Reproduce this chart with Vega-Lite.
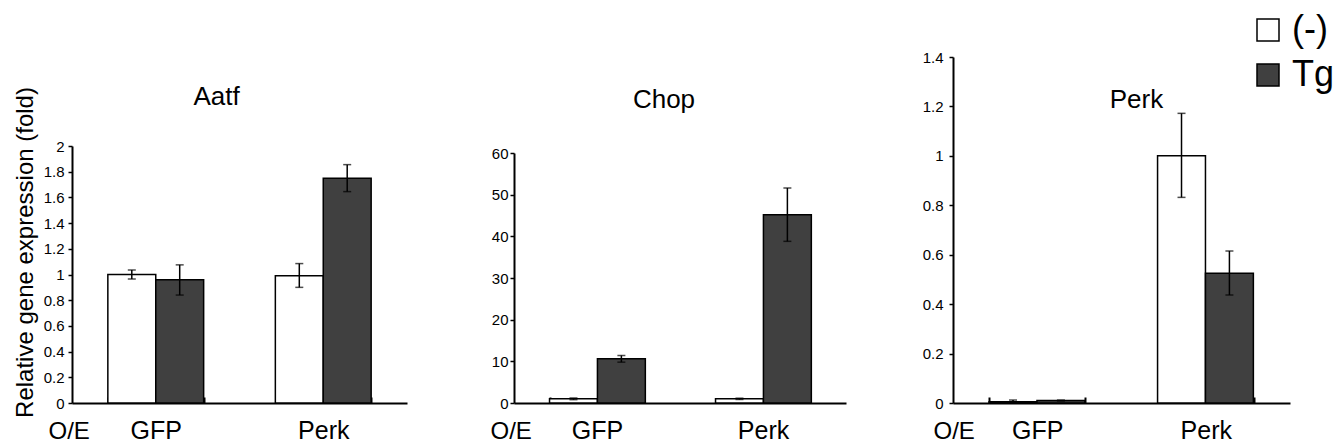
{
  "$schema": "https://vega.github.io/schema/vega-lite/v6.json",
  "padding": {"left": 13, "top": 12, "right": 5, "bottom": 5},
  "background": "white",
  "config": {
    "font": "Liberation Sans",
    "view": {"stroke": null},
    "axis": {"grid": false, "domainColor": "black", "domainWidth": 2, "tickColor": "black", "tickWidth": 1.5, "labelColor": "black", "titleColor": "black", "titleFontWeight": "normal", "labelFont": "Liberation Sans", "titleFont": "Liberation Sans", "labelOverlap": false},
    "title": {"font": "Liberation Sans", "fontSize": 26, "fontWeight": "normal", "color": "black", "frame": "group"},
    "legend": {"orient": "none", "legendX": 1178, "legendY": -45, "title": null, "symbolType": "square", "symbolSize": 484, "symbolStrokeColor": "black", "symbolStrokeWidth": 1.5, "labelFontSize": 36, "labelFont": "Liberation Sans", "labelColor": "black", "rowPadding": 9, "labelOffset": 6}
  },
  "data": {"values": [
    {"gene": "Aatf", "oe": "GFP", "treatment": "(-)", "value": 1.0, "lo": 0.965, "hi": 1.035},
    {"gene": "Aatf", "oe": "GFP", "treatment": "Tg", "value": 0.96, "lo": 0.84, "hi": 1.075},
    {"gene": "Aatf", "oe": "Perk", "treatment": "(-)", "value": 0.99, "lo": 0.9, "hi": 1.085},
    {"gene": "Aatf", "oe": "Perk", "treatment": "Tg", "value": 1.75, "lo": 1.645, "hi": 1.855},
    {"gene": "Chop", "oe": "GFP", "treatment": "(-)", "value": 1.0, "lo": 0.8, "hi": 1.2},
    {"gene": "Chop", "oe": "GFP", "treatment": "Tg", "value": 10.6, "lo": 9.8, "hi": 11.4},
    {"gene": "Chop", "oe": "Perk", "treatment": "(-)", "value": 1.0, "lo": 0.85, "hi": 1.15},
    {"gene": "Chop", "oe": "Perk", "treatment": "Tg", "value": 45.2, "lo": 38.8, "hi": 51.6},
    {"gene": "Perk", "oe": "GFP", "treatment": "(-)", "value": 0.005, "lo": 0.0, "hi": 0.012},
    {"gene": "Perk", "oe": "GFP", "treatment": "Tg", "value": 0.01, "lo": 0.008, "hi": 0.012},
    {"gene": "Perk", "oe": "Perk", "treatment": "(-)", "value": 1.0, "lo": 0.832, "hi": 1.172},
    {"gene": "Perk", "oe": "Perk", "treatment": "Tg", "value": 0.525, "lo": 0.437, "hi": 0.615}
  ]},
  "bounds": "flush",
  "spacing": 107,
  "hconcat": [
    {
      "width": 335, "height": 346,
      "title": {"text": "Aatf", "offset": -38, "baseline": "middle", "dx": -23, "dy": 28},
      "transform": [{"filter": "datum.gene === 'Aatf'"}],
      "encoding": {
        "x": {"field": "oe", "type": "nominal", "sort": ["GFP", "Perk"], "scale": {"paddingInner": 0.428, "paddingOuter": 0.214},
              "axis": {"title": "O/E", "titleX": -24, "titleY": 28, "titleAlign": "left", "titleBaseline": "middle", "titleFontSize": 24, "labelFontSize": 25, "labelAngle": 0, "labelPadding": 21, "tickBand": "extent", "tickSize": -6, "tickWidth": 2}},
        "xOffset": {"field": "treatment", "type": "nominal", "sort": ["(-)", "Tg"], "scale": {"paddingInner": 0, "paddingOuter": 0}}
      },
      "layer": [
        {"mark": {"type": "bar", "stroke": "black", "strokeWidth": 1.5},
         "encoding": {
           "y": {"field": "value", "type": "quantitative", "title": "Relative gene expression (fold)", "scale": {"domain": [0, 2], "range": [346, 89]},
                 "axis": {"values": [0, 0.2, 0.4, 0.6, 0.8, 1, 1.2, 1.4, 1.6, 1.8, 2], "tickCount": 20, "format": "~g", "labelOverlap": false, "labelFontSize": 15, "tickSize": 4, "labelPadding": 4, "titleFontSize": 24, "titleX": -47, "titleY": 195, "titleBaseline": "middle", "titleAngle": -90}},
           "color": {"field": "treatment", "type": "nominal", "scale": {"domain": ["(-)", "Tg"], "range": ["white", "#404040"]}}
         }},
        {"mark": {"type": "rule", "strokeWidth": 1.5, "color": "black"},
         "encoding": {"y": {"field": "lo", "type": "quantitative", "title": "Relative gene expression (fold)"}, "y2": {"field": "hi"}}},
        {"mark": {"type": "tick", "size": 8, "thickness": 1.5, "color": "black"},
         "encoding": {"y": {"field": "lo", "type": "quantitative", "title": "Relative gene expression (fold)"}}},
        {"mark": {"type": "tick", "size": 8, "thickness": 1.5, "color": "black"},
         "encoding": {"y": {"field": "hi", "type": "quantitative", "title": "Relative gene expression (fold)"}}}
      ]
    },
    {
      "width": 332, "height": 346,
      "title": {"text": "Chop", "offset": -38, "baseline": "middle", "dx": -16, "dy": 31},
      "transform": [{"filter": "datum.gene === 'Chop'"}],
      "encoding": {
        "x": {"field": "oe", "type": "nominal", "sort": ["GFP", "Perk"], "scale": {"paddingInner": 0.428, "paddingOuter": 0.214},
              "axis": {"title": "O/E", "titleX": -24, "titleY": 28, "titleAlign": "left", "titleBaseline": "middle", "titleFontSize": 24, "labelFontSize": 25, "labelAngle": 0, "labelPadding": 21, "tickBand": "extent", "tickSize": -6, "tickWidth": 2}},
        "xOffset": {"field": "treatment", "type": "nominal", "sort": ["(-)", "Tg"], "scale": {"paddingInner": 0, "paddingOuter": 0}}
      },
      "layer": [
        {"mark": {"type": "bar", "stroke": "black", "strokeWidth": 1.5},
         "encoding": {
           "y": {"field": "value", "type": "quantitative", "title": null, "scale": {"domain": [0, 60], "range": [346, 96]},
                 "axis": {"values": [0, 10, 20, 30, 40, 50, 60], "tickCount": 20, "format": "~g", "labelOverlap": false, "labelFontSize": 15, "tickSize": 4, "labelPadding": 2}},
           "color": {"field": "treatment", "type": "nominal", "scale": {"domain": ["(-)", "Tg"], "range": ["white", "#404040"]}}
         }},
        {"mark": {"type": "rule", "strokeWidth": 1.5, "color": "black"},
         "encoding": {"y": {"field": "lo", "type": "quantitative", "title": null}, "y2": {"field": "hi"}}},
        {"mark": {"type": "tick", "size": 8, "thickness": 1.5, "color": "black"},
         "encoding": {"y": {"field": "lo", "type": "quantitative", "title": null}}},
        {"mark": {"type": "tick", "size": 8, "thickness": 1.5, "color": "black"},
         "encoding": {"y": {"field": "hi", "type": "quantitative", "title": null}}}
      ]
    },
    {
      "width": 337, "height": 346,
      "title": {"text": "Perk", "offset": -38, "baseline": "middle", "dx": 15, "dy": 38},
      "transform": [{"filter": "datum.gene === 'Perk'"}],
      "encoding": {
        "x": {"field": "oe", "type": "nominal", "sort": ["GFP", "Perk"], "scale": {"paddingInner": 0.428, "paddingOuter": 0.214},
              "axis": {"title": "O/E", "titleX": -20, "titleY": 28, "titleAlign": "left", "titleBaseline": "middle", "titleFontSize": 24, "labelFontSize": 25, "labelAngle": 0, "labelPadding": 21, "tickBand": "extent", "tickSize": -6, "tickWidth": 2}},
        "xOffset": {"field": "treatment", "type": "nominal", "sort": ["(-)", "Tg"], "scale": {"paddingInner": 0, "paddingOuter": 0}}
      },
      "layer": [
        {"mark": {"type": "bar", "stroke": "black", "strokeWidth": 1.5},
         "encoding": {
           "y": {"field": "value", "type": "quantitative", "title": null, "scale": {"domain": [0, 1.4], "range": [346, 0]},
                 "axis": {"values": [0, 0.2, 0.4, 0.6, 0.8, 1, 1.2, 1.4], "tickCount": 20, "format": "~g", "labelOverlap": false, "labelFontSize": 15, "tickSize": 4, "labelPadding": 6}},
           "color": {"field": "treatment", "type": "nominal", "scale": {"domain": ["(-)", "Tg"], "range": ["white", "#404040"]}}
         }},
        {"mark": {"type": "rule", "strokeWidth": 1.5, "color": "black"},
         "encoding": {"y": {"field": "lo", "type": "quantitative", "title": null}, "y2": {"field": "hi"}}},
        {"mark": {"type": "tick", "size": 8, "thickness": 1.5, "color": "black"},
         "encoding": {"y": {"field": "lo", "type": "quantitative", "title": null}}},
        {"mark": {"type": "tick", "size": 8, "thickness": 1.5, "color": "black"},
         "encoding": {"y": {"field": "hi", "type": "quantitative", "title": null}}}
      ]
    }
  ]
}
